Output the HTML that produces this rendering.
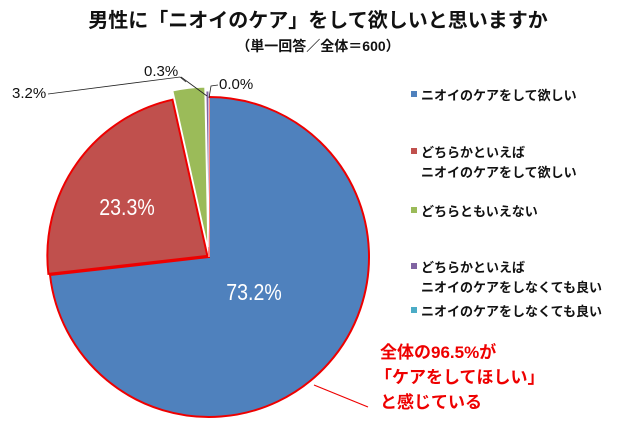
<!DOCTYPE html>
<html><head><meta charset="utf-8"><style>
body{margin:0;background:#fff;width:640px;height:437px;overflow:hidden;font-family:"Liberation Sans","Noto Sans CJK JP",sans-serif}
svg text{font-family:"Liberation Sans","Noto Sans CJK JP",sans-serif}
</style></head><body>
<svg id="chart" width="640" height="437">
<text x="318" y="27" text-anchor="middle" font-size="20" font-weight="bold" fill="#111">男性に「ニオイのケア」をして欲しいと思いますか</text>
<text x="318" y="51" text-anchor="middle" font-size="14" font-weight="bold" fill="#111">（単一回答／全体＝600）</text>
<g id="slices"></g>
<g id="legend"></g>
<text x="12" y="98" font-size="15" fill="#111">3.2%</text>
<polyline points="48,94 180,77 186,82" fill="none" stroke="#222" stroke-width="0.8"/>
<text x="144" y="76" font-size="15" fill="#111">0.3%</text>
<polyline points="181,77 207,96" fill="none" stroke="#222" stroke-width="0.8"/>
<text x="219" y="89" font-size="15" fill="#111">0.0%</text>
<polyline points="218,85 211,86 209,98" fill="none" stroke="#222" stroke-width="0.8"/>
<text x="0" y="0" text-anchor="middle" font-size="23" fill="#fff" transform="translate(254,300) scale(0.85,1)">73.2%</text>
<text x="0" y="0" text-anchor="middle" font-size="23" fill="#fff" transform="translate(127,215) scale(0.85,1)">23.3%</text>
<line x1="314" y1="385" x2="368" y2="407" stroke="#e00" stroke-width="1.2"/>
<g font-size="17" font-weight="bold" fill="#e00">
<text x="380" y="358">全体の96.5%が</text>
<text x="375" y="383">「ケアをしてほしい」</text>
<text x="380" y="408">と感じている</text>
</g>
</svg>
<script>
const categories=["ニオイのケアをして欲しい","どちらかといえば\nニオイのケアをして欲しい","どちらともいえない","どちらかといえば\nニオイのケアをしなくても良い","ニオイのケアをしなくても良い"];
const values=[73.2,23.3,3.2,0.3,0.0];
const colors=["#4f81bd","#c0504d","#9bbb59","#8064a2","#4bacc6"];
const explode=[0,2,10,6,0];
const cx=209,cy=257,r=160;
const NS="http://www.w3.org/2000/svg";
const g=document.getElementById('slices');
const total=values.reduce((a,b)=>a+b,0);
let a0=0;
function pt(a,rad,ox,oy){return [ox+rad*Math.sin(a),oy-rad*Math.cos(a)];}
values.forEach((v,i)=>{
  const a1=a0+v/total*2*Math.PI;
  const mid=(a0+a1)/2;
  const ox=cx+explode[i]*Math.sin(mid),oy=cy-explode[i]*Math.cos(mid);
  const p0=pt(a0,r,ox,oy),p1=pt(a1,r,ox,oy);
  const large=(a1-a0)>Math.PI?1:0;
  const p=document.createElementNS(NS,'path');
  p.setAttribute('d',`M${ox},${oy} L${p0[0]},${p0[1]} A${r},${r} 0 ${large} 1 ${p1[0]},${p1[1]} Z`);
  p.setAttribute('fill',colors[i]);
  p.setAttribute('stroke',i<2?'#e00':'#fff');
  p.setAttribute('stroke-width',i<2?'2':'1');
  
  
  g.appendChild(p);
  a0=a1;
});
const lg=document.getElementById('legend');
const rowsY=[100,157,216,272,316];
categories.forEach((c,i)=>{
  const s=document.createElementNS(NS,'rect');
  s.setAttribute('x',411);s.setAttribute('y',rowsY[i]-9);s.setAttribute('width',6);s.setAttribute('height',6);
  s.setAttribute('fill',colors[i]);
  
  
  lg.appendChild(s);
  c.split('\n').forEach((line,j)=>{
    const t=document.createElementNS(NS,'text');
    t.setAttribute('x',421);t.setAttribute('y',rowsY[i]+j*20);
    t.setAttribute('font-size','13');t.setAttribute('font-weight','bold');t.setAttribute('fill','#111');
    t.textContent=line;
    
    
    lg.appendChild(t);
  });
});
</script>
</body></html>
